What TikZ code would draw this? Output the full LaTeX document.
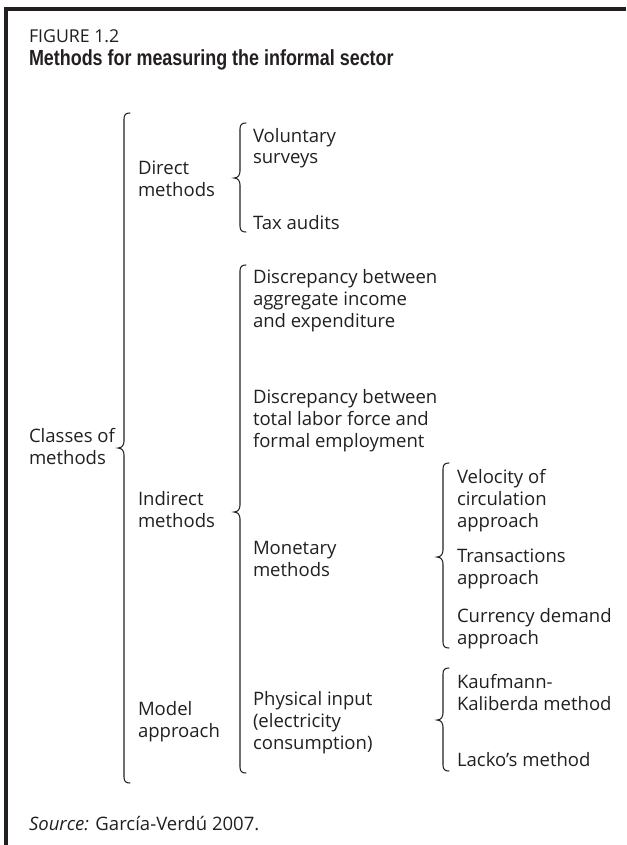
\documentclass[tikz,border=0pt]{standalone}
\usepackage{fontspec}
\setmainfont{Open Sans}
\newfontface\titleface[FakeStretch=0.82]{Liberation Sans Bold}
\definecolor{ink}{HTML}{231F20}
\newcommand\bodysize{\fontsize{13.9}{16.5}\selectfont}
\newcommand\curlybrace[4]{%
  \draw[bracestyle] (#1+6,#2) .. controls (#1+2,#2) and (#1,#2+1.5) .. (#1,#2+6)
    -- (#1,#3-7) .. controls (#1,#3-3) and (#1-2,#3) .. (#1-6,#3)
    .. controls (#1-2,#3) and (#1,#3+3) .. (#1,#3+7)
    -- (#1,#4-6) .. controls (#1,#4-1.5) and (#1+2,#4) .. (#1+6,#4);}
\begin{document}
\begin{tikzpicture}[x=0.75pt,y=-0.75pt,
  txt/.style={anchor=base west, inner sep=0pt, outer sep=0pt, align=left, font=\bodysize, text=ink},
  bracestyle/.style={draw=ink, line width=0.8pt, line cap=round},
  framestyle/.style={draw=ink, line width=3.2pt, line join=miter}]
\useasboundingbox (0,0) rectangle (626,845);
\draw[framestyle] (6.3,845) -- (6.3,9) -- (626,9);

% anchor = baseline of the last line of each text
\node[txt, font=\fontsize{13.3}{16}\selectfont] (fig) at (29,43) {FIGURE 1.2};
\node[txt, font=\titleface\fontsize{16.4}{19}\selectfont] (title) at (29,66) {Methods for measuring the informal sector};

\node[txt] (classes) at (29,464) {Classes of\\methods};
\node[txt] (direct) at (138,196) {Direct\\methods};
\node[txt] (indirect) at (138,527) {Indirect\\methods};
\node[txt] (model) at (138,737) {Model\\approach};

\node[txt] (vol) at (253,164) {Voluntary\\surveys};
\node[txt] (tax) at (253,229) {Tax audits};
\node[txt] (disc1) at (253,327) {Discrepancy between\\aggregate income\\and expenditure};
\node[txt] (disc2) at (253,447) {Discrepancy between\\total labor force and\\formal employment};
\node[txt] (monetary) at (253,576) {Monetary\\methods};
\node[txt] (physical) at (253,749) {Physical input\\(electricity\\consumption)};

\node[txt] (velocity) at (457,527) {Velocity of\\circulation\\approach};
\node[txt] (trans) at (457,584) {Transactions\\approach};
\node[txt] (currency) at (457,644) {Currency demand\\approach};
\node[txt] (kauf) at (457,710) {Kaufmann-\\Kaliberda method};
\node[txt] (lacko) at (457,766) {Lacko’s method};

\node[txt] (source) at (29,830) {\textit{Source:} García-Verdú 2007.};

\curlybrace{124}{113}{448}{783}
\curlybrace{240}{123}{178}{232}
\curlybrace{240}{265}{512}{773}
\curlybrace{443}{463}{557}{648}
\curlybrace{443}{668}{720}{771}
\end{tikzpicture}
\end{document}
